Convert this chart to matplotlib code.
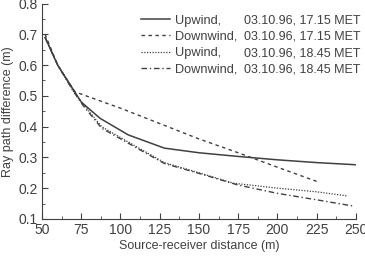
import matplotlib

matplotlib.use("Agg")
matplotlib.rcParams["font.family"] = ["Liberation Sans", "DejaVu Sans"]
import matplotlib.pyplot as plt
from matplotlib.ticker import MultipleLocator

# curves
up_1715_x = [52, 60, 70, 75, 87, 105, 128, 150, 175, 200, 225, 250]
up_1715_y = [0.69, 0.60, 0.52, 0.48, 0.427, 0.373, 0.33, 0.315, 0.303, 0.292, 0.283, 0.276]

down_1715_x = [52, 60, 71, 100, 125, 150, 175, 200, 225]
down_1715_y = [0.70, 0.60, 0.513, 0.46, 0.41, 0.36, 0.315, 0.268, 0.222]

up_1845_x = [52, 60, 70, 76, 88, 105, 128, 150, 172, 200, 225, 244]
up_1845_y = [0.69, 0.60, 0.515, 0.475, 0.40, 0.35, 0.283, 0.25, 0.216, 0.20, 0.188, 0.175]

down_1845_x = [52, 60, 70, 76, 88, 105, 128, 150, 175, 200, 225, 248]
down_1845_y = [0.69, 0.60, 0.515, 0.47, 0.395, 0.346, 0.28, 0.248, 0.21, 0.183, 0.162, 0.142]

kinds = ["Upwind,", "Downwind,", "Upwind,", "Downwind,"]
dates = ["03.10.96, 17.15 MET", "03.10.96, 17.15 MET",
         "03.10.96, 18.45 MET", "03.10.96, 18.45 MET"]

ink = "#404040"
W, H = 365, 256
fig = plt.figure(figsize=(W / 100, H / 100), dpi=100)
ax = fig.add_axes([0.115, 0.145, 0.86, 0.841])

h1, = ax.plot(up_1715_x, up_1715_y, color=ink, lw=1.1, ls="-")
h2, = ax.plot(down_1715_x, down_1715_y, color=ink, lw=1.0, ls=(0, (2.5, 2.5)))
h3, = ax.plot(up_1845_x, up_1845_y, color=ink, lw=0.9, ls=(0, (1, 1.2)))
h4, = ax.plot(down_1845_x, down_1845_y, color=ink, lw=1.0, ls=(0, (4, 2, 1, 2)))

ax.set_xlim(50, 250)
ax.set_ylim(0.1, 0.8)
ax.xaxis.set_major_locator(MultipleLocator(25))
ax.xaxis.set_minor_locator(MultipleLocator(12.5))
ax.yaxis.set_major_locator(MultipleLocator(0.1))
ax.yaxis.set_minor_locator(MultipleLocator(0.05))
ax.tick_params(which="both", direction="in", colors=ink, labelsize=10, pad=3)
ax.tick_params(which="major", length=4)
ax.tick_params(which="minor", length=2)
for s in ["top", "right"]:
    ax.spines[s].set_visible(False)
for s in ["left", "bottom"]:
    ax.spines[s].set_color(ink)

ax.set_xlabel("Source-receiver distance (m)", fontsize=9, color=ink, labelpad=2)
ax.set_ylabel("Ray path difference (m)", fontsize=9, color=ink, labelpad=3)

leg = fig.legend([h1, h2, h3, h4], kinds, loc="upper left",
                 bbox_to_anchor=(138 / W, 1 - 12 / H), bbox_transform=fig.transFigure,
                 frameon=False, fontsize=9.2, handlelength=2.3, handletextpad=0.4,
                 labelspacing=0.34, borderpad=0.2, borderaxespad=0)
for t in leg.get_texts():
    t.set_color(ink)

# second column of the legend: dates lined up with each row
fig.canvas.draw()
inv = fig.transFigure.inverted()
for t, d in zip(leg.get_texts(), dates):
    bb = t.get_window_extent()
    _, yc = inv.transform((0, (bb.y0 + bb.y1) / 2))
    fig.text(244 / W, yc, d, fontsize=9, color=ink, va="center", ha="left")

fig.savefig("out.png", dpi=100)
